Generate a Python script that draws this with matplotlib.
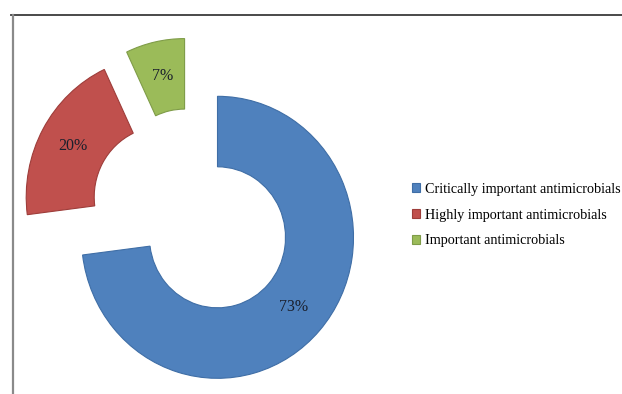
import matplotlib
matplotlib.use("Agg")
import matplotlib.pyplot as plt
from matplotlib.lines import Line2D

categories = [
    "Critically important antimicrobials",
    "Highly important antimicrobials",
    "Important antimicrobials",
]
shares = [73, 20, 7]
colors = ["#4f81bd", "#c0504d", "#9bbb59"]
edges = ["#3f6ea6", "#9e3d3a", "#7f9c48"]

plt.rcParams["font.family"] = ["Liberation Serif", "DejaVu Serif"]

W, H = 622, 394
fig = plt.figure(figsize=(W / 100, H / 100), dpi=100)

# pie axes placed in pixels, slightly taller than wide like the source
cx, cy = 192, 214
sx, sy = 136, 141
span = 1.4
ax = fig.add_axes([
    (cx - span * sx) / W,
    (H - cy - span * sy) / H,
    2 * span * sx / W,
    2 * span * sy / H,
])

wedges, _, autotexts = ax.pie(
    shares,
    startangle=90,
    counterclock=False,
    explode=[0.25] * len(shares),
    colors=colors,
    autopct="%.0f%%",
    pctdistance=0.75,
    wedgeprops=dict(width=0.5, linewidth=0.8),
    textprops=dict(fontsize=11.5, color="#1a1f2c"),
)
for w, e in zip(wedges, edges):
    w.set_edgecolor(e)
    w.set_clip_on(False)
ax.set_aspect("auto")
ax.set_xlim(-span, span)
ax.set_ylim(-span, span)
ax.axis("off")

fig.legend(
    wedges,
    categories,
    loc="center left",
    bbox_to_anchor=(405 / W, 1 - 215 / H),
    frameon=False,
    fontsize=10.2,
    handlelength=0.55,
    handleheight=0.55,
    handletextpad=0.35,
    labelspacing=0.9,
    borderpad=0,
)

# frame lines of the original picture
fig.add_artist(Line2D([11 / W, 1], [1 - 14.5 / H] * 2, color="#3a3a3a", lw=1.3))
fig.add_artist(Line2D([12.5 / W] * 2, [0, 1 - 14.5 / H], color="#8a8a8a", lw=1.6))

fig.savefig("out.png", dpi=100, facecolor="white")
